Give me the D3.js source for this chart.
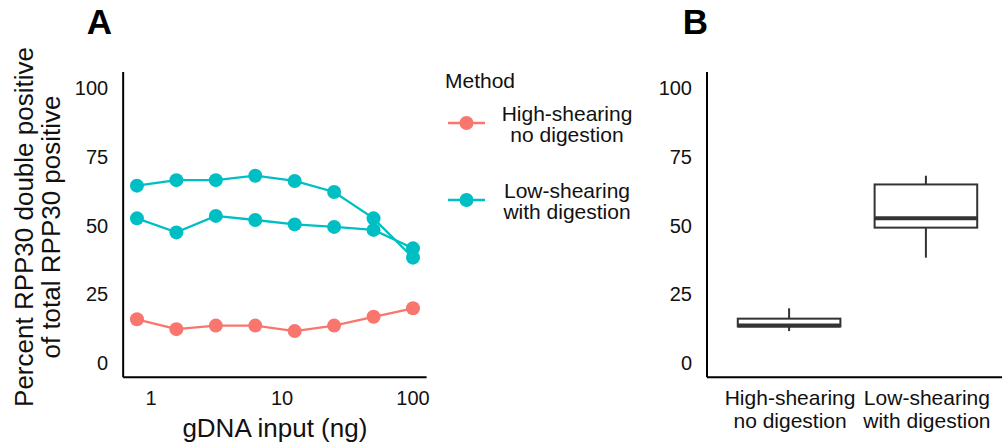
<!DOCTYPE html>
<html>
<head>
<meta charset="utf-8">
<script src="https://cdn.jsdelivr.net/npm/d3@7"></script>
<style>
  body { margin: 0; background: #fff; }
  svg { display: block; font-family: 'Liberation Sans', Arial, sans-serif; }
</style>
</head>
<body>
<svg id="chart"></svg>
<script>
// gDNA input (ng), 2-fold dilution series
const inputNg = [0.78125, 1.5625, 3.125, 6.25, 12.5, 25, 50, 100];
// percent RPP30 double positive of total RPP30 positive
const highNoDigest = [15.9, 12.3, 13.6, 13.6, 11.6, 13.6, 16.8, 19.9];
const lowDigestRep1 = [64.5, 66.5, 66.5, 68.1, 66.2, 62.2, 52.6, 38.3];
const lowDigestRep2 = [52.6, 47.5, 53.5, 52.0, 50.4, 49.5, 48.4, 41.7];

const methods = ['High-shearing\nno digestion', 'Low-shearing\nwith digestion'];
const methodColors = ['#F8766D', '#00BFC4'];
const yTicks = [0, 25, 50, 75, 100];
const xTicks = [1, 10, 100];

let width = 1002;
let height = 446;
let svg = d3.select('#chart').attr('width', width).attr('height', height);

const axisColor = '#000';
const textColor = '#111';

// shared y scale
let yScale = d3.scaleLinear().domain([0, 100]).range([363, 88]);

// ---------- panel A ----------
let xScale = d3.scaleLog().domain([1, 100]).range([151, 413]);
const xLeft = xScale(0.613), xRight = xScale(127);

let series = [
  { method: 0, values: highNoDigest },
  { method: 1, values: lowDigestRep1 },
  { method: 1, values: lowDigestRep2 }
];

let line = d3.line()
  .x((d, i) => xScale(inputNg[i]))
  .y(d => yScale(d));

let gA = svg.append('g');

series.forEach(s => {
  gA.append('path')
    .attr('d', line(s.values))
    .attr('fill', 'none')
    .attr('stroke', methodColors[s.method])
    .attr('stroke-width', 2.3);
});
series.forEach(s => {
  gA.selectAll(null)
    .data(s.values)
    .enter()
    .append('circle')
    .attr('cx', (d, i) => xScale(inputNg[i]))
    .attr('cy', d => yScale(d))
    .attr('r', 7)
    .attr('fill', methodColors[s.method]);
});

// axis lines
gA.append('line')
  .attr('x1', xLeft).attr('x2', xLeft)
  .attr('y1', yScale(105.8)).attr('y2', yScale(-5.2))
  .attr('stroke', axisColor).attr('stroke-width', 2);
gA.append('line')
  .attr('x1', xLeft).attr('x2', xRight)
  .attr('y1', yScale(-5.2)).attr('y2', yScale(-5.2))
  .attr('stroke', axisColor).attr('stroke-width', 2);

gA.selectAll('.ytick')
  .data(yTicks)
  .enter()
  .append('text')
  .attr('x', xLeft - 15)
  .attr('y', d => yScale(d) + 7)
  .attr('text-anchor', 'end')
  .attr('font-size', 20)
  .attr('fill', textColor)
  .text(d => d);

gA.selectAll('.xtick')
  .data(xTicks)
  .enter()
  .append('text')
  .attr('x', d => xScale(d))
  .attr('y', 405)
  .attr('text-anchor', 'middle')
  .attr('font-size', 20)
  .attr('fill', textColor)
  .text(d => d);

gA.append('text')
  .attr('x', (xLeft + xRight) / 2)
  .attr('y', 437)
  .attr('text-anchor', 'middle')
  .attr('font-size', 26)
  .attr('fill', textColor)
  .text('gDNA input (ng)');

let yTitle = ['Percent RPP30 double positive', 'of total RPP30 positive'];
gA.selectAll('.ytitle')
  .data(yTitle)
  .enter()
  .append('text')
  .attr('transform', (d, i) => 'translate(' + (33 + i * 27) + ',' + 227 + ') rotate(-90)')
  .attr('text-anchor', 'middle')
  .attr('font-size', 26)
  .attr('fill', textColor)
  .text(d => d);

svg.append('text')
  .attr('x', 99.5).attr('y', 34)
  .attr('text-anchor', 'middle')
  .attr('font-size', 35)
  .attr('font-weight', 'bold')
  .attr('fill', '#000')
  .text('A');

// ---------- legend ----------
let legend = svg.append('g');
legend.append('text')
  .attr('x', 445).attr('y', 88)
  .attr('font-size', 21)
  .attr('fill', textColor)
  .text('Method');

methods.forEach((m, i) => {
  let ky = 123 + i * 77;
  legend.append('line')
    .attr('x1', 448).attr('x2', 485)
    .attr('y1', ky).attr('y2', ky)
    .attr('stroke', methodColors[i]).attr('stroke-width', 2.3);
  legend.append('circle')
    .attr('cx', 466.5).attr('cy', ky).attr('r', 7)
    .attr('fill', methodColors[i]);
  let t = legend.append('text')
    .attr('text-anchor', 'middle')
    .attr('font-size', 21)
    .attr('fill', textColor);
  m.split('\n').forEach((part, j) => {
    t.append('tspan')
      .attr('x', 567)
      .attr('y', ky - 2 + j * 21)
      .text(part);
  });
});

// ---------- panel B ----------
let xBand = d3.scaleLinear().domain([0.4, 2.6]).range([707, 1008]);
let boxData = [highNoDigest, lowDigestRep1.concat(lowDigestRep2)];

const boxStats = vals => {
  let s = vals.slice().sort(d3.ascending);
  let q1 = d3.quantileSorted(s, 0.25);
  let med = d3.quantileSorted(s, 0.5);
  let q3 = d3.quantileSorted(s, 0.75);
  let iqr = q3 - q1;
  let lo = d3.min(s.filter(v => v >= q1 - 1.5 * iqr));
  let hi = d3.max(s.filter(v => v <= q3 + 1.5 * iqr));
  return { q1, med, q3, lo, hi };
};

let gB = svg.append('g');
const boxColor = '#333333';
const halfW = 0.375;

boxData.forEach((vals, i) => {
  let st = boxStats(vals);
  let cx = xBand(i + 1);
  gB.append('line')
    .attr('x1', cx).attr('x2', cx)
    .attr('y1', yScale(st.q3)).attr('y2', yScale(st.hi))
    .attr('stroke', boxColor).attr('stroke-width', 2);
  gB.append('line')
    .attr('x1', cx).attr('x2', cx)
    .attr('y1', yScale(st.q1)).attr('y2', yScale(st.lo))
    .attr('stroke', boxColor).attr('stroke-width', 2);
  gB.append('rect')
    .attr('x', xBand(i + 1 - halfW))
    .attr('width', xBand(i + 1 + halfW) - xBand(i + 1 - halfW))
    .attr('y', yScale(st.q3))
    .attr('height', yScale(st.q1) - yScale(st.q3))
    .attr('fill', '#fff')
    .attr('stroke', boxColor).attr('stroke-width', 2);
  gB.append('line')
    .attr('x1', xBand(i + 1 - halfW)).attr('x2', xBand(i + 1 + halfW))
    .attr('y1', yScale(st.med)).attr('y2', yScale(st.med))
    .attr('stroke', boxColor).attr('stroke-width', 4);
});

gB.append('line')
  .attr('x1', 707).attr('x2', 707)
  .attr('y1', yScale(105.8)).attr('y2', yScale(-5.2))
  .attr('stroke', axisColor).attr('stroke-width', 2);
gB.append('line')
  .attr('x1', 707).attr('x2', width)
  .attr('y1', yScale(-5.2)).attr('y2', yScale(-5.2))
  .attr('stroke', axisColor).attr('stroke-width', 2);

gB.selectAll('.ytick')
  .data(yTicks)
  .enter()
  .append('text')
  .attr('x', 692)
  .attr('y', d => yScale(d) + 7)
  .attr('text-anchor', 'end')
  .attr('font-size', 20)
  .attr('fill', textColor)
  .text(d => d);

methods.forEach((m, i) => {
  let t = gB.append('text')
    .attr('text-anchor', 'middle')
    .attr('font-size', 21)
    .attr('fill', textColor);
  m.split('\n').forEach((part, j) => {
    t.append('tspan')
      .attr('x', xBand(i + 1) + 1)
      .attr('y', 405 + j * 22.5)
      .text(part);
  });
});

svg.append('text')
  .attr('x', 695.5).attr('y', 34)
  .attr('text-anchor', 'middle')
  .attr('font-size', 35)
  .attr('font-weight', 'bold')
  .attr('fill', '#000')
  .text('B');
</script>
</body>
</html>
